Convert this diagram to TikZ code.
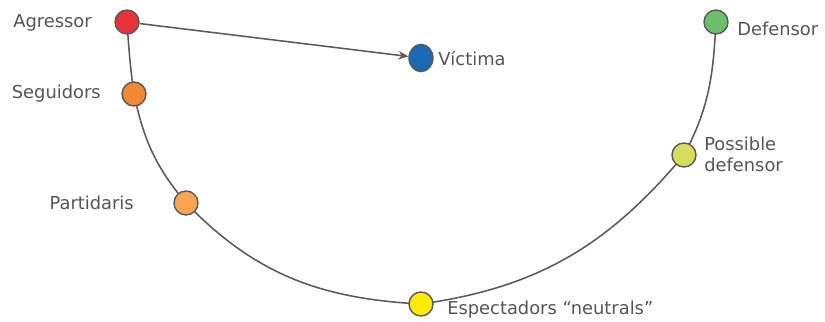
\documentclass[tikz,border=0pt]{standalone}
\usepackage{fontspec}
\setmainfont{DejaVu Sans}
\usetikzlibrary{arrows.meta,backgrounds,shapes.geometric}
\definecolor{linegray}{HTML}{5A5A5A}
\definecolor{textgray}{HTML}{555555}
\definecolor{cagr}{HTML}{E8323A}
\definecolor{cseg}{HTML}{F08934}
\definecolor{cpar}{HTML}{F7A64F}
\definecolor{cesp}{HTML}{FFEC00}
\definecolor{cpos}{HTML}{D5DD5E}
\definecolor{cdef}{HTML}{6CBE6A}
\definecolor{cvic}{HTML}{1C6AB4}
\begin{document}
\begin{tikzpicture}[x=0.025cm,y=0.025cm]
        \tikzstyle{node_style} = [circle,draw=linegray,line width=1pt,minimum size=0.6cm,inner sep=0pt]
        \tikzstyle{text_style} = [text=textgray,font=\fontsize{12.7}{15}\selectfont,inner sep=0pt]
        \tikzstyle{edge_style} = [draw=linegray,line width=1.1pt]
        \useasboundingbox (0,0) rectangle (825,322);
        % roles on the curve
        \node[node_style,fill=cagr] (agr) at (127,300) {};
        \node[node_style,fill=cseg] (seg) at (134,228) {};
        \node[node_style,fill=cpar] (par) at (186,119) {};
        \node[node_style,fill=cesp] (esp) at (421,18) {};
        \node[node_style,fill=cpos] (pos) at (684,167) {};
        \node[node_style,fill=cdef] (def) at (716,300) {};
        \node[node_style,fill=cvic,ellipse,minimum width=0.6cm,minimum height=0.68cm] (vic) at (421,264) {};
        % labels
        \node[text_style,anchor=east] (agr_t) at (92,299) {Agressor};
        \node[text_style,anchor=east] (seg_t) at (101,228) {Seguidors};
        \node[text_style,anchor=east] (par_t) at (134,119) {Partidaris};
        \node[text_style,anchor=west] (vic_t) at (438,264) {Víctima};
        \node[text_style,anchor=west] (def_t) at (737,293) {Defensor};
        \node[text_style,anchor=west,align=left] (pos_t) at (704,168) {Possible\\defensor};
        \node[text_style,anchor=west] (esp_t) at (447,12) {Espectadors “neutrals”};
        % curve and arrow
        \begin{scope}[on background layer]
        \draw[edge_style] (agr.center) to[out=-86,in=98] (seg.center)
          to[out=-78,in=130] (par.center)
          to[out=-46,in=177] (esp.center)
          to[out=8,in=-130] (pos.center)
          to[out=62,in=-93] (def.center);
        \end{scope}
        \draw[edge_style,-{Stealth[length=7pt,width=6pt]}] (agr) -- (vic);
      \end{tikzpicture}
\end{document}
